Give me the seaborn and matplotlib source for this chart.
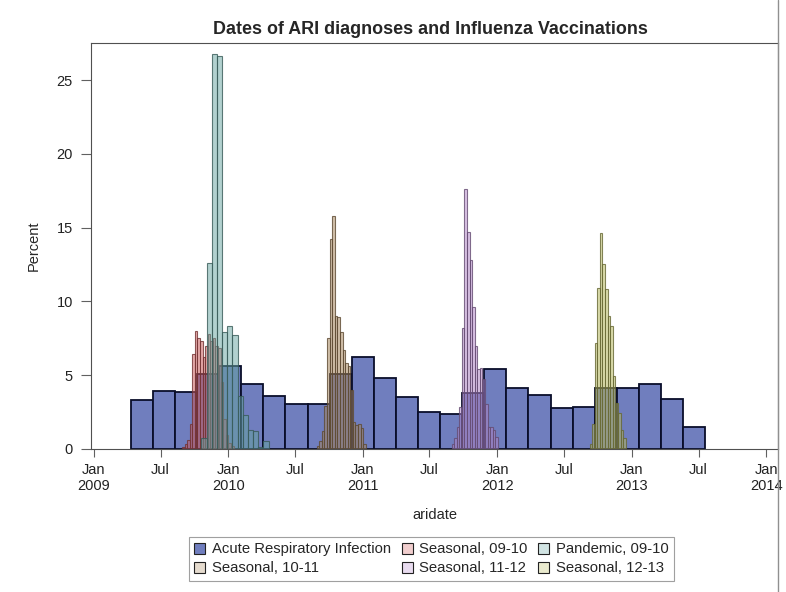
"""
Datas de diagnósticos de IRA e vacinações contra influenza
"""

import pandas as pd
import matplotlib
matplotlib.use("Agg")
import matplotlib.pyplot as plt
import matplotlib.dates as mdates
from matplotlib.patches import Patch
from matplotlib.lines import Line2D
from matplotlib.colors import to_rgba
import seaborn as sns

sns.set_style("ticks")
plt.rcParams['font.family'] = ['Liberation Sans', 'DejaVu Sans']

# ---------------------------------------------------------
# Dados (percentual por intervalo)
# ---------------------------------------------------------
# IRA: intervalos de 60 dias
ari_start = '2009-04-11'
ari_pct = [3.3, 3.9, 3.85, 5.1, 5.6, 4.4, 3.6, 3.0, 3.05, 5.1, 6.2, 4.8, 3.5,
           2.5, 2.35, 3.75, 5.4, 4.1, 3.65, 2.75, 2.8, 4.1, 4.15, 4.4, 3.4, 1.5]

# vacinas sazonais: intervalos semanais; pandêmica: 14 dias
s0910_start = '2009-08-28'
s0910_pct = [0.1, 0.3, 0.6, 1.7, 6.4, 8.0, 7.5, 7.3, 6.2, 7.0, 7.8, 7.3, 7.5,
             7.0, 6.8, 4.5, 2.0, 0.9, 0.4, 0.2]

pan_start = '2009-10-20'
pan_pct = [0.7, 12.6, 26.8, 26.6, 7.9, 8.3, 7.7, 3.6, 2.3, 1.3, 1.2, 0.1, 0.5]

s1011_start = '2010-08-29'
s1011_pct = [0.2, 0.5, 1.2, 2.9, 7.5, 14.2, 15.8, 9.0, 8.9, 7.9, 6.7, 5.8, 5.6,
             4.0, 1.8, 1.6, 1.7, 1.4, 0.3]

s1112_start = '2011-08-30'
s1112_pct = [0.3, 0.7, 1.5, 2.8, 8.2, 17.6, 14.7, 12.8, 9.6, 7.0, 5.4, 5.5, 4.7,
             3.0, 1.5, 1.5, 1.3, 0.8]

s1213_start = '2012-09-08'
s1213_pct = [0.3, 1.7, 7.2, 10.9, 14.6, 12.5, 10.8, 9.0, 8.3, 4.9, 3.1, 2.4,
             1.3, 0.75]

tick_dates = ['2009-01-01', '2009-07-01', '2010-01-01', '2010-07-01',
              '2011-01-01', '2011-07-01', '2012-01-01', '2012-07-01',
              '2013-01-01', '2013-07-01', '2014-01-01']
tick_labels = ['Jan\n2009', 'Jul', 'Jan\n2010', 'Jul', 'Jan\n2011', 'Jul',
               'Jan\n2012', 'Jul', 'Jan\n2013', 'Jul', 'Jan\n2014']

# cores padrão do SAS (GraphData1..6)
cor_ari = '#707EBE'
cores = {'s0910': '#D05B5B', 'pan': '#66A5A0', 's1011': '#A9865B',
         's1112': '#B689CD', 's1213': '#BABC5C'}


def escurecer(c, f=0.55):
    r, g, b, _ = to_rgba(c)
    return (r * f, g * f, b * f)


def desenha(ax, inicio, pct, dias, face, edge, lw):
    edges = mdates.date2num(pd.date_range(inicio, periods=len(pct) + 1,
                                          freq=f'{dias}D'))
    df = pd.DataFrame({'meio': (edges[:-1] + edges[1:]) / 2, 'pct': pct})
    # bins como lista (array quebra a checagem bins == "auto" do seaborn)
    sns.histplot(data=df, x='meio', weights='pct', bins=list(edges),
                 stat='count', ax=ax, element='bars', fill=True,
                 facecolor=face, edgecolor=edge, linewidth=lw)


fig, ax = plt.subplots(figsize=(7.86, 5.92), dpi=100)
fig.subplots_adjust(left=0.1158, right=0.99, bottom=0.242, top=0.927)

desenha(ax, ari_start, ari_pct, 60, cor_ari, '#0A0E2A', 1.3)

series = [(s0910_start, s0910_pct, 7, cores['s0910']),
          (pan_start, pan_pct, 14, cores['pan']),
          (s1011_start, s1011_pct, 7, cores['s1011']),
          (s1112_start, s1112_pct, 7, cores['s1112']),
          (s1213_start, s1213_pct, 7, cores['s1213'])]
for inicio, pct, dias, c in series:
    desenha(ax, inicio, pct, dias, to_rgba(c, 0.5),
            to_rgba(escurecer(c), 0.8), 0.8)

ax.set_xlim(mdates.date2num(pd.Timestamp('2008-12-24')),
            mdates.date2num(pd.Timestamp('2014-02-02')))
ax.set_ylim(0, 27.5)
ax.set_xticks(mdates.date2num(pd.to_datetime(tick_dates)))
ax.set_xticklabels(tick_labels)
ax.set_yticks([0, 5, 10, 15, 20, 25])
ax.tick_params(direction='out', length=6, width=0.8, color='#606060',
               labelsize=10.5, labelcolor='#222222')
ax.tick_params(axis='x', pad=4)
ax.tick_params(axis='y', pad=6, length=7)
for s in ax.spines.values():
    s.set_color('#505050')
    s.set_linewidth(0.8)

ax.set_ylabel('Percent', fontsize=10.5)
ax.yaxis.set_label_coords(-0.073, 0.5)
ax.set_xlabel('aridate', fontsize=10.5)
ax.xaxis.set_label_coords(0.5, -0.145)
fig.text(0.548, 0.951, 'Dates of ARI diagnoses and Influenza Vaccinations',
         ha='center', va='center', fontsize=12.9, fontweight='bold')

# legenda (ordem por coluna)
def claro(c, a=0.3):
    r, g, b, _ = to_rgba(c)
    return (1 - a + a * r, 1 - a + a * g, 1 - a + a * b)

handles = [Patch(facecolor=cor_ari, edgecolor='#222222', lw=0.8),
           Patch(facecolor=claro(cores['s1011']), edgecolor='#222222', lw=0.8),
           Patch(facecolor=claro(cores['s0910']), edgecolor='#222222', lw=0.8),
           Patch(facecolor=claro(cores['s1112']), edgecolor='#222222', lw=0.8),
           Patch(facecolor=claro(cores['pan']), edgecolor='#222222', lw=0.8),
           Patch(facecolor=claro(cores['s1213']), edgecolor='#222222', lw=0.8)]
labels = ['Acute Respiratory Infection', 'Seasonal, 10-11', 'Seasonal, 09-10',
          'Seasonal, 11-12', 'Pandemic, 09-10', 'Seasonal, 12-13']
leg = fig.legend(handles, labels, ncol=3, loc='center',
                 bbox_to_anchor=(0.549, 0.056), frameon=True, fancybox=False,
                 edgecolor='#888888', fontsize=10.7, handlelength=0.75,
                 handleheight=0.75, handletextpad=0.45, columnspacing=0.7,
                 borderpad=0.35, labelspacing=0.35)
leg.get_frame().set_linewidth(0.8)

fig.add_artist(Line2D([0.99, 0.99], [0, 1], transform=fig.transFigure,
                      color='#909090', lw=1))

plt.savefig('out.png', dpi=100)
